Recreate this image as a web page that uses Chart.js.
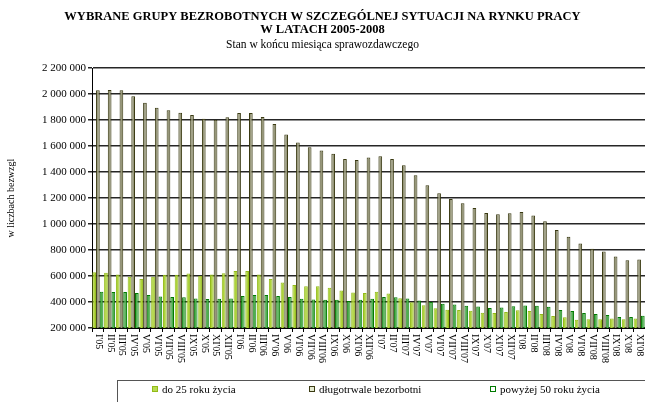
<!DOCTYPE html>
<html>
<head>
<meta charset="utf-8">
<script src="https://cdn.jsdelivr.net/npm/chart.js@4"></script>
<style>
  html, body { margin: 0; padding: 0; background: #fff; }
</style>
</head>
<body>
<canvas id="myChart" width="645" height="402"></canvas>
<script>
// data
var months = ['I', 'II', 'III', 'IV', 'V', 'VI', 'VII', 'VIII', 'IX', 'X', 'XI', 'XII'];
var years = ['05', '06', '07', '08'];
var categories = [];
years.forEach(function (y) {
  months.forEach(function (m) {
    if (!(y === '08' && m === 'XII')) categories.push(m + "'" + y);
  });
});

var seriesNames = ['do 25 roku życia', 'długotrwale bezorbotni', 'powyżej 50 roku życia'];

var do25 = [630000, 625000, 612000, 594000, 578000, 594000, 610000, 610000, 620000, 602000, 612000, 622000,
  638000, 638000, 612000, 578000, 551000, 531000, 521000, 521000, 510000, 488000, 473000, 470000,
  480000, 465000, 429000, 398000, 375000, 352000, 341000, 339000, 333000, 318000, 315000, 323000,
  336000, 331000, 308000, 293000, 282000, 264000, 267000, 267000, 274000, 267000, 274000];

var dlugotrwale = [2030000, 2032000, 2030000, 1984000, 1935000, 1896000, 1876000, 1857000, 1839000, 1811000, 1803000, 1822000,
  1855000, 1855000, 1824000, 1770000, 1690000, 1629000, 1592000, 1567000, 1541000, 1502000, 1494000, 1513000,
  1523000, 1502000, 1453000, 1376000, 1299000, 1237000, 1193000, 1160000, 1124000, 1085000, 1075000, 1083000,
  1093000, 1067000, 1021000, 954000, 903000, 851000, 810000, 789000, 751000, 722000, 727000];

var powyzej50 = [480000, 477000, 477000, 469000, 454000, 443000, 438000, 436000, 428000, 423000, 425000, 428000,
  446000, 454000, 454000, 446000, 438000, 425000, 420000, 418000, 418000, 408000, 418000, 425000,
  439000, 436000, 428000, 411000, 400000, 387000, 380000, 372000, 366000, 354000, 357000, 367000,
  374000, 372000, 364000, 339000, 331000, 315000, 308000, 300000, 285000, 285000, 295000];

var yMin = 200000, yMax = 2200000, yStep = 200000;

var serif = '"Liberation Serif", "Times New Roman", serif';
Chart.defaults.font.family = serif;
Chart.defaults.color = '#000';

function fmt(v) {
  return String(v).replace(/\B(?=(\d{3})+(?!\d))/g, ' ');
}

// rotated category labels, reading top to bottom like the original
var xLabels = {
  id: 'xLabels',
  afterDraw: function (chart) {
    var ctx = chart.ctx, xs = chart.scales.x;
    ctx.save();
    ctx.font = '10px ' + serif;
    ctx.fillStyle = '#000';
    ctx.textAlign = 'left';
    ctx.textBaseline = 'middle';
    chart.data.labels.forEach(function (lab, i) {
      ctx.save();
      ctx.translate(xs.getPixelForValue(i) + 0.5, xs.top + 6);
      ctx.rotate(Math.PI / 2);
      ctx.fillText(lab, 0, 0);
      ctx.restore();
    });
    ctx.restore();
  }
};

// boxed legend at the bottom
var legendBox = {
  id: 'legendBox',
  afterDraw: function (chart) {
    var ctx = chart.ctx;
    var starts = [152, 309, 490];
    ctx.save();
    ctx.strokeStyle = '#555';
    ctx.lineWidth = 1;
    ctx.strokeRect(117.5, 380.5, 540, 40);
    ctx.font = '11px ' + serif;
    ctx.textBaseline = 'middle';
    chart.data.datasets.forEach(function (ds, i) {
      var x = starts[i], y = 389;
      ctx.fillStyle = ds.legendFill;
      ctx.fillRect(x, y - 3, 6, 6);
      ctx.strokeStyle = ds.borderColor;
      ctx.strokeRect(x + 0.5, y - 2.5, 5, 5);
      ctx.fillStyle = '#000';
      ctx.fillText(ds.label, x + 10, y + 1);
    });
    ctx.restore();
  }
};

var ctx = document.getElementById('myChart').getContext('2d');
var myChart = new Chart(ctx, {
  type: 'bar',
  data: {
    labels: categories,
    datasets: [{
      label: seriesNames[0],
      data: do25,
      backgroundColor: '#ADD33A',
      borderColor: '#92BA18',
      legendFill: '#B8DC50',
      borderWidth: 1
    }, {
      label: seriesNames[1],
      data: dlugotrwale,
      backgroundColor: '#97977A',
      borderColor: '#3A3A12',
      legendFill: '#E4EAD0',
      borderWidth: 1
    }, {
      label: seriesNames[2],
      data: powyzej50,
      backgroundColor: '#4FAE4F',
      borderColor: '#007A00',
      legendFill: '#FFFFFF',
      borderWidth: 1
    }]
  },
  options: {
    responsive: false,
    animation: false,
    layout: { padding: { left: 0, right: 0, top: 0, bottom: 30 } },
    datasets: { bar: { categoryPercentage: 0.94, barPercentage: 1 } },
    plugins: {
      legend: { display: false },
      tooltip: { enabled: false },
      title: {
        display: true,
        text: ['WYBRANE GRUPY BEZROBOTNYCH W SZCZEGÓLNEJ SYTUACJI NA RYNKU PRACY', 'W LATACH 2005-2008'],
        color: '#000',
        font: { size: 12.5, weight: 'bold', lineHeight: 1.04 },
        padding: { top: 10, bottom: 1 }
      },
      subtitle: {
        display: true,
        text: 'Stan w końcu miesiąca sprawozdawczego',
        color: '#000',
        font: { size: 11.5, lineHeight: 1.15 },
        padding: { top: 1, bottom: 17 }
      }
    },
    scales: {
      x: {
        ticks: { display: false },
        grid: { display: true, drawOnChartArea: false, tickLength: 4, color: '#000', offset: true },
        border: { color: '#000', width: 1 },
        afterFit: function (s) { s.height = 44; }
      },
      y: {
        min: yMin,
        max: yMax,
        ticks: { stepSize: yStep, padding: 2, color: '#000', font: { size: 11 }, callback: function (v) { return fmt(v); } },
        grid: { color: '#262626', lineWidth: 1.5, tickLength: 4 },
        border: { color: '#000', width: 1 },
        title: { display: true, text: 'w liczbach bezwzgl', color: '#000', font: { size: 10 }, padding: { top: 5, bottom: 0 } },
        afterFit: function (s) { s.width = 92; }
      }
    }
  },
  plugins: [xLabels, legendBox]
});
</script>
</body>
</html>
